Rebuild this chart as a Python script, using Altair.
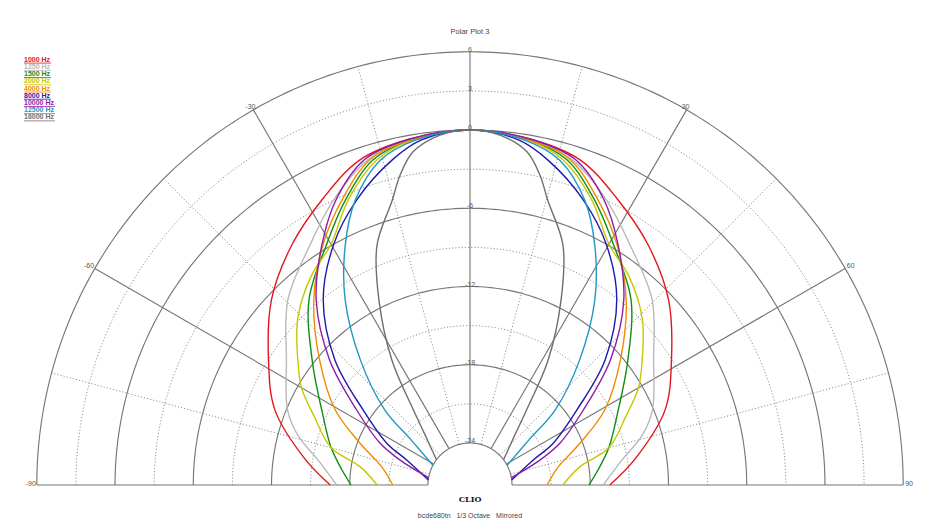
import altair as alt
import pandas as pd
import numpy as np

# ---------------- data ----------------
freqs = ["1000 Hz", "1250 Hz", "1500 Hz", "2000 Hz", "4000 Hz",
         "8000 Hz", "10000 Hz", "12500 Hz", "16000 Hz"]
colors = ["#e3161c", "#b9b9b9", "#0f8f12", "#c6c800", "#f08c00",
          "#1b1bb0", "#8e1ca6", "#2297c6", "#6f6f6f"]

# angle (deg, one side; plot is mirrored) and level (dB)
ang_1000 = [0, 10, 18.7, 27, 36.6, 47, 58, 69, 81, 90]
db_1000 = [0, -0.3, -0.9, -2.5, -4.3, -6.4, -9.0, -11.2, -14.4, -16.5]

ang_1250 = [0, 10, 17.5, 25.6, 33.7, 44.5, 55.8, 67.7, 74, 80.6, 90]
db_1250 = [0, -0.35, -1.1, -3.0, -5.1, -7.3, -10.2, -12.1, -13.5, -15.4, -17.0]

ang_1500 = [0, 10, 16.6, 23.7, 31, 41, 51.7, 65, 75, 83, 90]
db_1500 = [0, -0.4, -1.2, -3.4, -5.8, -8.4, -11.8, -14.8, -16.2, -17.3, -18.1]

ang_2000 = [0, 10, 16, 23, 30, 36.7, 42, 47, 54, 60, 66, 75, 80.6, 90]
db_2000 = [0, -0.45, -1.3, -3.4, -5.9, -7.0, -8.0, -9.1, -10.9, -12.3, -14.1, -16.2, -18.7, -20.1]

ang_4000 = [0, 10, 17, 24, 31.4, 40.3, 50.2, 60.9, 69.2, 78.3, 90]
db_4000 = [0, -0.4, -1.1, -3.2, -5.6, -8.7, -12.2, -15.4, -18.2, -20.3, -21.3]

ang_8000 = [0, 8, 13.5, 21.7, 29.5, 38.4, 47.2, 54.9, 63.4, 68.4, 83]
db_8000 = [0, -0.5, -1.6, -3.7, -6.0, -9.1, -13.1, -17.2, -20.1, -22.0, -24.0]

ang_10000 = [0, 10, 18, 25, 31.7, 39.8, 48.3, 56.5, 65, 70.3, 80]
db_10000 = [0, -0.3, -1.0, -3.0, -5.6, -8.8, -12.8, -16.8, -19.6, -21.5, -24.0]

ang_12500 = [0, 9, 15.5, 22, 27.5, 34, 41.3, 48.6, 52.5, 62]
db_12500 = [0, -0.45, -1.4, -3.7, -6.5, -10.1, -14.5, -18.5, -21.5, -24.0]

ang_16000 = [0, 5, 9.7, 12.7, 15.3, 21.2, 26.2, 32, 37, 42, 53]
db_16000 = [0, -0.3, -1.3, -2.85, -4.6, -7.5, -11.4, -15.9, -20.0, -22.1, -24.0]

series = {
    "1000 Hz": (ang_1000, db_1000), "1250 Hz": (ang_1250, db_1250),
    "1500 Hz": (ang_1500, db_1500), "2000 Hz": (ang_2000, db_2000),
    "4000 Hz": (ang_4000, db_4000), "8000 Hz": (ang_8000, db_8000),
    "10000 Hz": (ang_10000, db_10000), "12500 Hz": (ang_12500, db_12500),
    "16000 Hz": (ang_16000, db_16000),
}

ring_levels = [-24, -21, -18, -15, -12, -9, -6, -3, 0, 3, 6]
ring_labels = ["-24", "-18", "-12", "-6", "0", "3", "6"]
ring_label_levels = [-24, -18, -12, -6, 0, 3, 6]
spoke_angles = [-90, -75, -60, -45, -30, -15, 0, 15, 30, 45, 60, 75, 90]
angle_labels = ["-90", "-60", "-30", "30", "60", "90"]
angle_label_vals = [-90, -60, -30, 30, 60, 90]

title_text = "Polar Plot 3"
brand_text = "CLIO"
footer_text = "bcde680tn\u00a0\u00a0 1/3 Octave\u00a0\u00a0 Mirrored"

# ---------------- geometry of the scale ----------------
PX = 13.04          # pixels per dB
R0 = 42 / PX        # radius offset of -24 dB (inner hole)
DBMIN, DBMAX = -24, 6
W, H = 920, 513
CX, CY = 462, 477   # pole position inside the view
xdom = [-CX / PX, (W - CX) / PX]
ydom = [-(H - CY) / PX, CY / PX]

xs = alt.Scale(domain=xdom, nice=False, zero=False)
ys = alt.Scale(domain=ydom, nice=False, zero=False)


def to_xy(ch):
    return ch.transform_calculate(
        rr=f"max(datum.db, {DBMIN}) - ({DBMIN}) + {R0}"
    ).transform_calculate(
        px="datum.rr * sin(datum.ang * PI / 180)",
        py="datum.rr * cos(datum.ang * PI / 180)",
    )


X = alt.X("px:Q", scale=xs, axis=None)
Y = alt.Y("py:Q", scale=ys, axis=None)

# ---------------- curves (mirrored) ----------------
rows = []
for f, (a_list, d_list) in series.items():
    for a, d in zip(a_list, d_list):
        rows.append({"freq": f, "ang": a, "db": d})
        if a != 0:
            rows.append({"freq": f, "ang": -a, "db": d})
curves = pd.DataFrame(rows)

# ---------------- grid ----------------
arc_ang = np.arange(-90, 90.5, 1.0)
ring_rows = []
for lv in ring_levels:
    sty = "solid" if lv % 6 == 0 else "dot"
    for a in arc_ang:
        ring_rows.append({"lv": lv, "ang": float(a), "db": lv, "sty": sty})
rings = pd.DataFrame(ring_rows)

spoke_rows = []
for a in spoke_angles:
    sty = "solid" if a % 30 == 0 else "dot"
    for d in (DBMIN, DBMAX):
        spoke_rows.append({"sp": a, "ang": a, "db": d, "sty": sty})
spokes = pd.DataFrame(spoke_rows)

grid_color = "#777777"
dot_color = "#858585"

ring_solid = to_xy(alt.Chart(rings)).transform_filter("datum.sty == 'solid'").mark_line(
    color=grid_color, strokeWidth=1.15).encode(x=X, y=Y, detail="lv:N", order="ang:Q")
ring_dot = to_xy(alt.Chart(rings)).transform_filter("datum.sty == 'dot'").mark_line(
    color=dot_color, strokeWidth=0.9, strokeDash=[1.2, 2]).encode(x=X, y=Y, detail="lv:N", order="ang:Q")
spoke_solid = to_xy(alt.Chart(spokes)).transform_filter("datum.sty == 'solid'").mark_line(
    color=grid_color, strokeWidth=1.15).encode(x=X, y=Y, detail="sp:N", order="db:Q")
spoke_dot = to_xy(alt.Chart(spokes)).transform_filter("datum.sty == 'dot'").mark_line(
    color=dot_color, strokeWidth=0.9, strokeDash=[1.2, 2]).encode(x=X, y=Y, detail="sp:N", order="db:Q")

color_scale = alt.Scale(domain=freqs, range=colors)

curve_layer = to_xy(alt.Chart(curves)).mark_line(
    strokeWidth=1.4, interpolate="catmull-rom").encode(
    x=X, y=Y,
    color=alt.Color("freq:N", scale=color_scale, legend=None),
    detail="freq:N",
    order="ang:Q",
)

# ---------------- labels ----------------
lab_font = "Liberation Sans"
rl = pd.DataFrame({"txt": ring_labels, "db": ring_label_levels, "ang": 0})
ring_text = to_xy(alt.Chart(rl)).mark_text(
    align="center", baseline="bottom", dy=1, fontSize=7, color="#555", font=lab_font
).encode(x=X, y=Y, text="txt:N")

al = pd.DataFrame({"txt": angle_labels, "ang": angle_label_vals, "db": DBMAX + 0.15})
al["grp"] = ["r", "r", "c", "c", "l", "l"]
ang_text_c = to_xy(alt.Chart(al)).transform_filter("datum.grp == 'c'").mark_text(
    align="center", baseline="bottom", dx=-2, dy=2, fontSize=7, color="#555", font=lab_font
).encode(x=X, y=Y, text="txt:N")
ang_text_r = to_xy(alt.Chart(al)).transform_filter("datum.grp == 'r'").mark_text(
    align="right", baseline="bottom", dx=1, dy=2, fontSize=7, color="#555", font=lab_font
).encode(x=X, y=Y, text="txt:N")
ang_text_l = to_xy(alt.Chart(al)).transform_filter("datum.grp == 'l'").mark_text(
    align="left", baseline="bottom", dx=0, dy=2, fontSize=7, color="#555", font=lab_font
).encode(x=X, y=Y, text="txt:N")

# ---------------- legend (coloured text, underlined) ----------------
leg = pd.DataFrame({"freq": freqs})
leg["nch"] = leg["freq"].str.len()
LY = alt.Y("freq:N", sort=freqs,
           scale=alt.Scale(type="point", domain=freqs, range=[50, 115]), axis=None)
leg_text = alt.Chart(leg).mark_text(
    align="left", baseline="alphabetic", fontSize=7, fontWeight="bold", font=lab_font
).encode(x=alt.value(16), y=LY, text="freq:N",
         color=alt.Color("freq:N", scale=color_scale, legend=None))
leg_ul4 = alt.Chart(leg).transform_filter("datum.nch == 7").mark_rule(
    strokeWidth=0.8, yOffset=1.5).encode(
    x=alt.value(16), x2=alt.value(43), y=LY,
    color=alt.Color("freq:N", scale=color_scale, legend=None))
leg_ul5 = alt.Chart(leg).transform_filter("datum.nch == 8").mark_rule(
    strokeWidth=0.8, yOffset=1.5).encode(
    x=alt.value(16), x2=alt.value(47), y=LY,
    color=alt.Color("freq:N", scale=color_scale, legend=None))

# ---------------- titles ----------------
txt = pd.DataFrame({"t": [title_text, brand_text, footer_text],
                    "k": ["title", "brand", "foot"]})
title_l = alt.Chart(txt).transform_filter("datum.k == 'title'").mark_text(
    fontSize=7.5, color="#444", font=lab_font, align="center", baseline="middle"
).encode(x=alt.value(CX), y=alt.value(24), text="t:N")
brand_l = alt.Chart(txt).transform_filter("datum.k == 'brand'").mark_text(
    fontSize=8, fontWeight="bold", color="#111", font="DejaVu Serif", align="center", baseline="middle"
).encode(x=alt.value(CX), y=alt.value(492), text="t:N")
foot_l = alt.Chart(txt).transform_filter("datum.k == 'foot'").mark_text(
    fontSize=7, color="#444", font=lab_font, align="center", baseline="middle"
).encode(x=alt.value(CX), y=alt.value(508), text="t:N")

chart = alt.layer(
    ring_dot, spoke_dot, ring_solid, spoke_solid,
    curve_layer,
    ring_text, ang_text_c, ang_text_r, ang_text_l,
    leg_ul4, leg_ul5, leg_text,
    title_l, brand_l, foot_l,
).resolve_scale(y="independent").properties(
    width=W, height=H, padding=0,
    autosize=alt.AutoSizeParams(type="none"),
    background="white",
).configure_view(stroke=None)

chart.save("out.html", embed_options={"renderer": "svg", "actions": False})
